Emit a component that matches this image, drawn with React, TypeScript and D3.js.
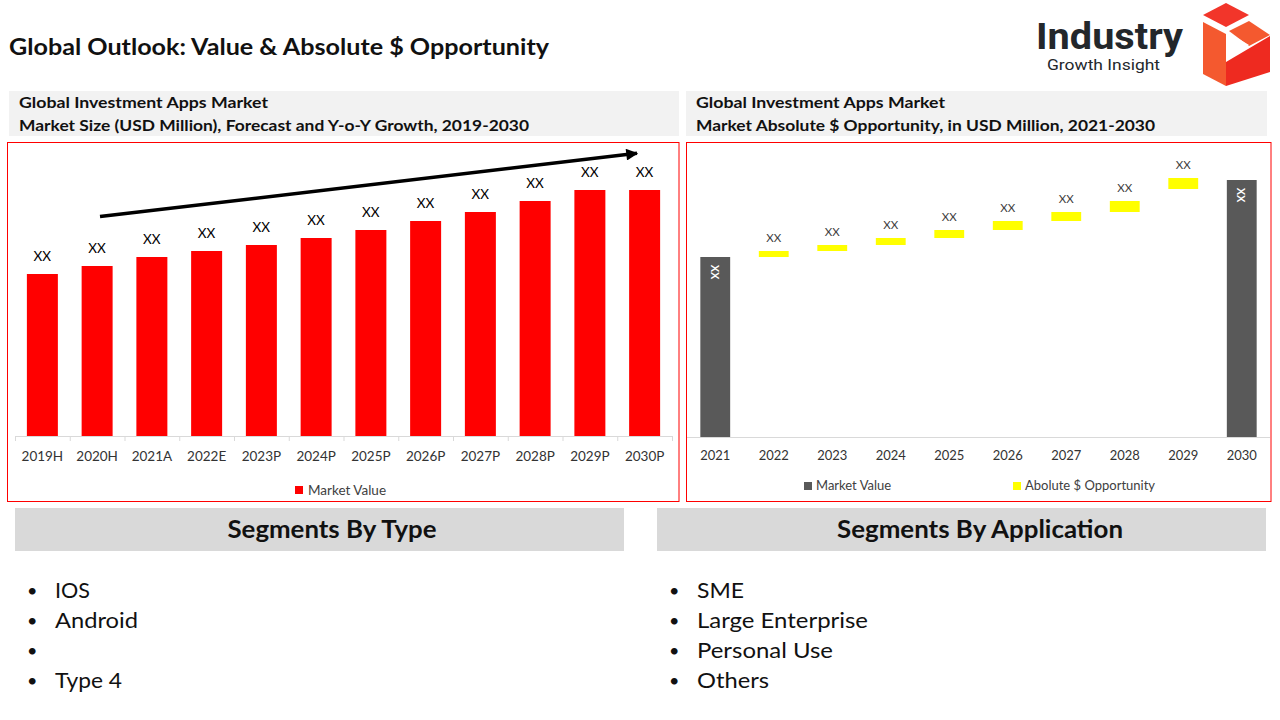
import React from "react";
import * as d3 from "d3";

const FONT = "Lato, 'Open Sans', sans-serif";

// ---- Data ----
const sizeCategories = ["2019H", "2020H", "2021A", "2022E", "2023P", "2024P", "2025P", "2026P", "2027P", "2028P", "2029P", "2030P"];
const sizeValues = [162, 170, 179, 185, 191, 198, 206, 215, 224, 235, 246, 246];
const sizeLabels = ["XX", "XX", "XX", "XX", "XX", "XX", "XX", "XX", "XX", "XX", "XX", "XX"];

const oppCategories = ["2021", "2022", "2023", "2024", "2025", "2026", "2027", "2028", "2029", "2030"];
// market value bars (only first and last year)
const oppMarketValues = [180, null, null, null, null, null, null, null, null, 257];
// floating opportunity bars: low and high
const oppLow = [null, 180, 186, 192, 199, 207, 216, 225, 248, null];
const oppHigh = [null, 186, 192, 199, 207, 216, 225, 236, 259, null];

const typeSegments = ["IOS", "Android", "", "Type 4"];
const typeWidths = [35, 83, 0, 67];
const appSegments = ["SME", "Large Enterprise", "Personal Use", "Others"];
const appWidths = [47, 171, 136, 72];

const RED = "#ff0000";
const DARK = "#595959";
const YELLOW = "#ffff00";

export default function App() {
  // Left chart scales
  const x1 = d3.scaleBand<string>().domain(sizeCategories).range([15, 672]).paddingInner(0.434).paddingOuter(0.217);
  const y1 = d3.scaleLinear().domain([0, 300]).range([436, 136]);
  const step1 = x1.step();
  const boundaries1 = d3.range(sizeCategories.length + 1).map((i) => 15 + i * step1);

  // Right chart scales
  const x2 = d3.scaleBand<string>().domain(oppCategories).range([686, 1271]).paddingInner(0.49).paddingOuter(0.245);
  const y2 = d3.scaleLinear().domain([0, 300]).range([437, 137]);

  const arrowStart: [number, number] = [100, 216.5];
  const arrowEnd: [number, number] = [640, 153];

  return (
    <svg width={1280} height={720} style={{ display: "block", position: "absolute", left: 0, top: 0 }} fontFamily={FONT}>
      <defs>
        <marker id="arrowHead" viewBox="0 0 10 10" refX="9" refY="5" markerWidth="4" markerHeight="3.4" orient="auto" markerUnits="strokeWidth">
          <path d="M0,0 L10,5 L0,10 z" fill="#000" />
        </marker>
      </defs>
      <rect x={0} y={0} width={1280} height={720} fill="#fff" />

      {/* Title */}
      <text x={9} y={55} fontSize={22} fontWeight={700} fill="#111" textLength={540} lengthAdjust="spacingAndGlyphs">Global Outlook: Value &amp; Absolute $ Opportunity</text>

      {/* Logo */}
      <g>
        <text x={1036} y={49} fontSize={37} fontWeight={700} fill="#23272b" fontFamily="Roboto, sans-serif" textLength={147} lengthAdjust="spacingAndGlyphs">Industry</text>
        <text x={1047} y={70} fontSize={15.5} fill="#23272b" fontFamily="Roboto, sans-serif" textLength={113} lengthAdjust="spacingAndGlyphs">Growth Insight</text>
        <polygon points="1203,15 1226,3 1249,15 1226,27" fill="#f2352a" />
        <polygon points="1203,22 1226,34 1226,86 1203,74" fill="#f4592f" />
        <polygon points="1229,31 1249,21 1270,35 1249,46" fill="#f4592f" />
        <polygon points="1226,62 1270,36 1270,72 1226,86" fill="#ee2a20" />
        <polygon points="1229,33 1229,57 1249,45" fill="#ffffff" />
      </g>

      {/* Subtitle boxes */}
      <rect x={9} y={91} width={670} height={45} fill="#f2f2f2" />
      <text x={19} y={108} fontSize={15.5} fontWeight={700} fill="#111" textLength={249} lengthAdjust="spacingAndGlyphs">Global Investment Apps Market</text>
      <text x={19} y={131} fontSize={15.5} fontWeight={700} fill="#111" textLength={510} lengthAdjust="spacingAndGlyphs">Market Size (USD Million), Forecast and Y-o-Y Growth, 2019-2030</text>

      <rect x={686} y={91} width={581} height={45} fill="#f2f2f2" />
      <text x={696} y={108} fontSize={15.5} fontWeight={700} fill="#111" textLength={249} lengthAdjust="spacingAndGlyphs">Global Investment Apps Market</text>
      <text x={696} y={131} fontSize={15.5} fontWeight={700} fill="#111" textLength={459} lengthAdjust="spacingAndGlyphs">Market Absolute $ Opportunity, in USD Million, 2021-2030</text>

      {/* Left chart frame */}
      <rect x={7.5} y={142.5} width={671.5} height={359} fill="none" stroke={RED} strokeWidth={1} />
      {/* axis */}
      <line x1={15} x2={672} y1={436.5} y2={436.5} stroke="#d9d9d9" />
      {boundaries1.map((bx, i) => (
        <line key={i} x1={bx + 0.5} x2={bx + 0.5} y1={436} y2={441} stroke="#d9d9d9" />
      ))}
      {sizeCategories.map((c, i) => (
        <g key={c}>
          <rect x={x1(c)} y={y1(sizeValues[i])} width={x1.bandwidth()} height={y1(0) - y1(sizeValues[i])} fill={RED} />
          <text x={(x1(c) as number) + x1.bandwidth() / 2} y={y1(sizeValues[i]) - 13} fontSize={13.5} textAnchor="middle" fill="#000">{sizeLabels[i]}</text>
          <text x={(x1(c) as number) + x1.bandwidth() / 2} y={461} fontSize={13.5} textAnchor="middle" fill="#333">{c}</text>
        </g>
      ))}
      <line x1={arrowStart[0]} y1={arrowStart[1]} x2={arrowEnd[0] - 3} y2={arrowEnd[1] + 0.35} stroke="#000" strokeWidth={3.5} markerEnd="url(#arrowHead)" />
      {/* legend */}
      <rect x={295} y={486} width={8} height={8} fill={RED} />
      <text x={308} y={495} fontSize={13.5} fill="#404040">Market Value</text>

      {/* Right chart frame */}
      <rect x={686.5} y={142.5} width={584.5} height={359} fill="none" stroke={RED} strokeWidth={1} />
      <line x1={687} x2={1270} y1={437.5} y2={437.5} stroke="#d9d9d9" />
      {oppCategories.map((c, i) => {
        const bx = x2(c) as number;
        const bw = x2.bandwidth();
        const cx = bx + bw / 2;
        const mv = oppMarketValues[i];
        const lo = oppLow[i];
        const hi = oppHigh[i];
        return (
          <g key={c}>
            {mv != null && (
              <>
                <rect x={bx} y={y2(mv)} width={bw} height={y2(0) - y2(mv)} fill={DARK} />
                <text transform={`translate(${cx},${y2(mv) + 15}) rotate(90)`} fontSize={11} fontWeight={700} textAnchor="middle" dominantBaseline="central" fill="#fff">XX</text>
              </>
            )}
            {lo != null && hi != null && (
              <>
                <rect x={bx} y={y2(hi)} width={bw} height={y2(lo) - y2(hi)} fill={YELLOW} />
                <text x={cx} y={y2(hi) - 9} fontSize={11.5} textAnchor="middle" fill="#404040">XX</text>
              </>
            )}
            <text x={cx} y={460} fontSize={13} textAnchor="middle" fill="#333">{c}</text>
          </g>
        );
      })}
      <rect x={804} y={482} width={8} height={8} fill={DARK} />
      <text x={816} y={490} fontSize={13} fill="#404040">Market Value</text>
      <rect x={1013} y={482} width={8} height={8} fill={YELLOW} />
      <text x={1025} y={490} fontSize={13} fill="#404040">Abolute $ Opportunity</text>

      {/* Segments */}
      <rect x={15} y={508} width={609} height={43} fill="#d9d9d9" />
      <text x={332} y={538} fontSize={24} fontWeight={700} textAnchor="middle" fill="#111" textLength={209} lengthAdjust="spacingAndGlyphs">Segments By Type</text>
      <rect x={657} y={508} width={609} height={43} fill="#d9d9d9" />
      <text x={980} y={538} fontSize={24} fontWeight={700} textAnchor="middle" fill="#111" textLength={286} lengthAdjust="spacingAndGlyphs">Segments By Application</text>

      {typeSegments.map((s, i) => (
        <g key={"t" + i}>
          <text x={27} y={597 + i * 30} fontSize={18} fill="#111">•</text>
          {s && <text x={55} y={598 + i * 30} fontSize={22} fill="#111" textLength={typeWidths[i]} lengthAdjust="spacingAndGlyphs">{s}</text>}
        </g>
      ))}
      {appSegments.map((s, i) => (
        <g key={"a" + i}>
          <text x={669} y={597 + i * 30} fontSize={18} fill="#111">•</text>
          <text x={697} y={598 + i * 30} fontSize={22} fill="#111" textLength={appWidths[i]} lengthAdjust="spacingAndGlyphs">{s}</text>
        </g>
      ))}
    </svg>
  );
}
